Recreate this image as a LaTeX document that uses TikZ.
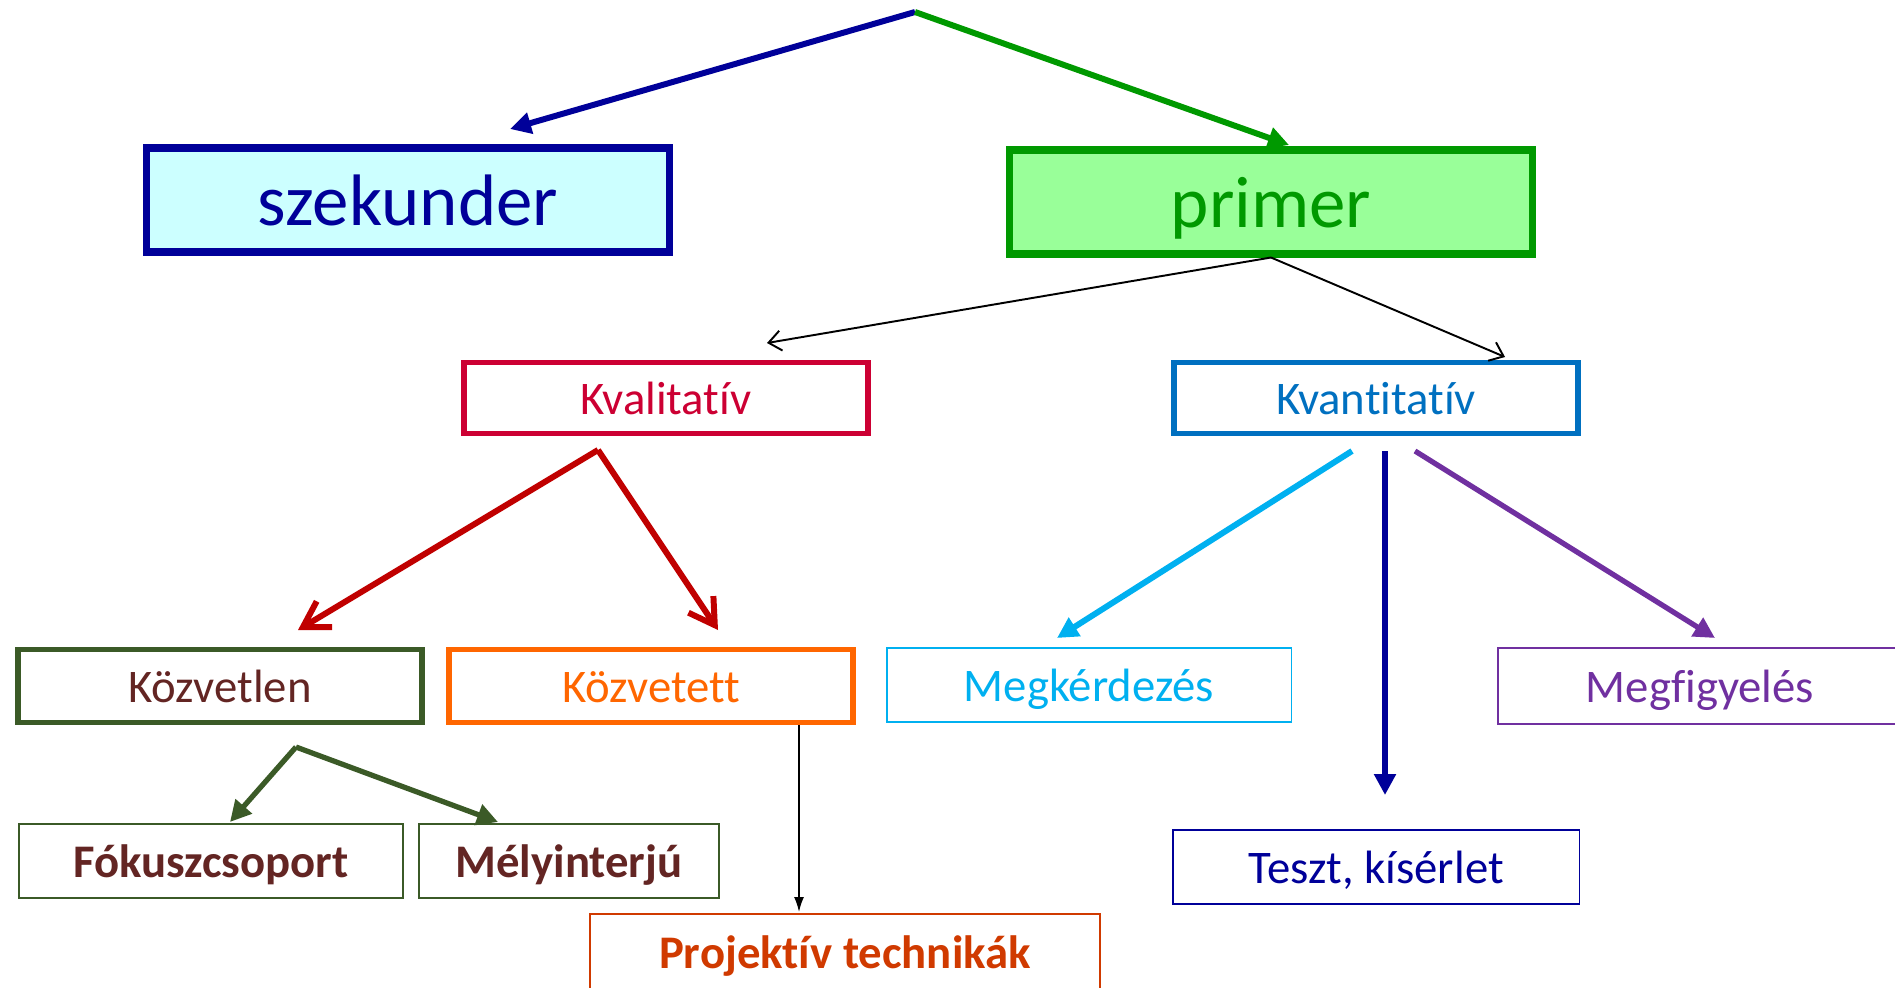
\documentclass[tikz,border=0pt]{standalone}
\usepackage{fontspec}
\setmainfont{Carlito}[Ligatures=NoCommon]
\usepackage{xcolor}
\usetikzlibrary{arrows.meta}

\definecolor{szekblue}{HTML}{000099}
\definecolor{szekfill}{HTML}{CCFFFF}
\definecolor{primgreen}{HTML}{009900}
\definecolor{primfill}{HTML}{99FF99}
\definecolor{kvalred}{HTML}{CC0033}
\definecolor{kvanblue}{HTML}{0070C0}
\definecolor{arrowred}{HTML}{C00000}
\definecolor{olive}{HTML}{3B5A27}
\definecolor{brown}{HTML}{632523}
\definecolor{orange}{HTML}{FF6600}
\definecolor{cyan}{HTML}{00B0F0}
\definecolor{purple}{HTML}{7030A0}
\definecolor{projred}{HTML}{D03A00}

\begin{document}
\begin{tikzpicture}[x=0.02cm, y=-0.02cm,
    box/.style={draw, rectangle, inner sep=0pt, align=center,
        text height=18.6pt, text depth=0pt,
        font=\fontsize{26.6}{30}\selectfont},
    bigbox/.style={box, line width=4pt, minimum width=10.48cm,
        minimum height=2.08cm, text height=29pt, font=\fontsize{41.5}{48}\selectfont},
    midbox/.style={box, line width=3.4pt, minimum width=8.1cm, minimum height=1.42cm},
    lowbox/.style={box, line width=3pt, minimum width=8.08cm, minimum height=1.46cm},
    thinbox/.style={box, line width=1.1pt, minimum width=8.1cm, minimum height=1.48cm},
    leafbox/.style={box, line width=1pt, minimum height=1.48cm, draw=olive,
        text=brown, font=\fontsize{26.6}{30}\selectfont\bfseries},
    fat/.style={line width=3.4pt},
    tri/.style={-{Triangle[length=0.42cm, width=0.42cm]}},
    barb/.style={-{Straight Barb[length=0.5cm, width=0.6cm]}}]

    \useasboundingbox (0,0) rectangle (1895,987);

    \coordinate(apex) at (915, 12);
    \coordinate(szekTip) at (510, 129);
    \coordinate(primTip) at (1289, 145);
    \coordinate(kvalTip) at (767, 343);
    \coordinate(kvanTip) at (1505, 357);
    \coordinate(kvalOut) at (598, 450);
    \coordinate(kozvlenTip) at (298, 630);
    \coordinate(kozvettTip) at (718, 630);
    \coordinate(megkOut) at (1352, 451);
    \coordinate(megkTip) at (1057, 638);
    \coordinate(tesztOut) at (1385, 451);
    \coordinate(tesztTip) at (1385, 795);
    \coordinate(megfOut) at (1415, 451);
    \coordinate(megfTip) at (1715, 638);
    \coordinate(kozvOut) at (296, 747);
    \coordinate(fokTip) at (230, 822);
    \coordinate(melyTip) at (498, 822);
    \coordinate(projTip) at (799, 912);

    \node[bigbox, draw=szekblue, fill=szekfill, text=szekblue] (szek) at (408, 200) {szekunder};
    \node[bigbox, draw=primgreen, fill=primfill, text=primgreen] (prim) at (1271, 202) {primer};

    \node[midbox, draw=kvalred, text=kvalred] (kval) at (666, 398) {Kvalitatív};
    \node[midbox, draw=kvanblue, text=kvanblue] (kvan) at (1376, 398) {Kvantitatív};

    \node[lowbox, draw=olive, text=brown] (kozvlen) at (220, 686) {Közvetlen};
    \node[lowbox, draw=orange, text=orange] (kozvett) at (651, 686) {Közvetett};
    \node[thinbox, draw=cyan, text=cyan] (megk) at (1089, 685) {Megkérdezés};
    \node[thinbox, draw=purple, text=purple, minimum height=1.52cm] (megf) at (1700, 686) {Megfigyelés};
    \node[thinbox, draw=szekblue, text=szekblue, minimum width=8.14cm] (teszt) at (1376, 867) {Teszt, kísérlet};

    \node[leafbox, minimum width=7.68cm] (fok) at (211, 861) {Fókuszcsoport};
    \node[leafbox, minimum width=6cm] (mely) at (569, 861) {Mélyinterjú};
    \node[leafbox, draw=projred, text=projred, minimum width=10.2cm, minimum height=1.52cm] (proj) at (845, 952) {Projektív technikák};

    \draw[fat, tri, szekblue] (apex) -- (szekTip);
    \draw[fat, tri, primgreen] (apex) -- (primTip);

    \draw[line width=1.1pt, -{Straight Barb[length=0.25cm, width=0.4cm]}] (prim.south) -- (kvalTip);
    \draw[line width=1.1pt, -{Straight Barb[length=0.25cm, width=0.4cm]}] (prim.south) -- (kvanTip);

    \draw[fat, barb, arrowred] (kvalOut) -- (kozvlenTip);
    \draw[fat, barb, arrowred] (kvalOut) -- (kozvettTip);

    \draw[fat, tri, cyan] (megkOut) -- (megkTip);
    \draw[fat, tri, szekblue] (tesztOut) -- (tesztTip);
    \draw[line width=3pt, tri, purple] (megfOut) -- (megfTip);

    \draw[line width=3pt, tri, olive] (kozvOut) -- (fokTip);
    \draw[line width=3pt, tri, olive] (kozvOut) -- (melyTip);

    \draw[line width=0.9pt, -{Latex[length=0.3cm, width=0.2cm]}] (kozvett.south -| projTip) -- (projTip);

\end{tikzpicture}
\end{document}
